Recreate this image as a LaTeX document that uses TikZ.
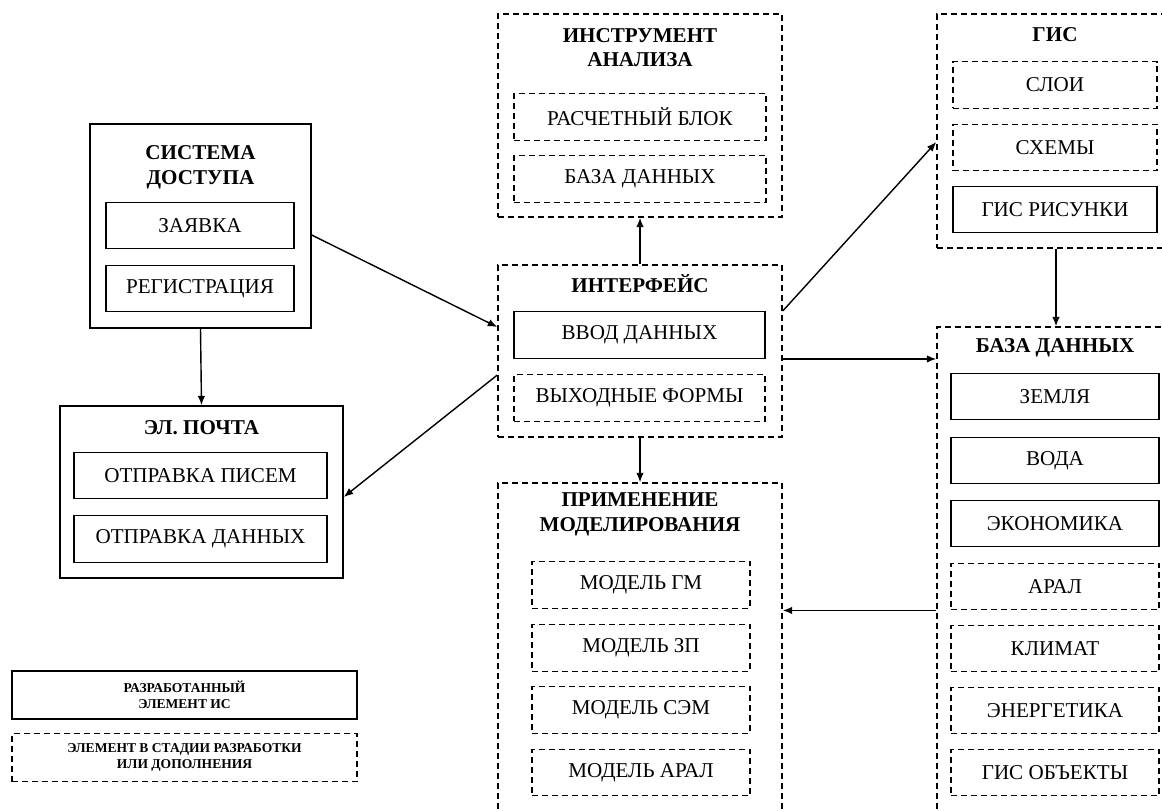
\documentclass[tikz,border=0pt]{standalone}
\usepackage{fontspec}
\setmainfont{Liberation Serif}
\usetikzlibrary{arrows.meta}

\begin{document}
\begin{tikzpicture}[x=0.2mm,y=-0.2mm,
    solidbox/.style={draw,line width=0.8pt,inner sep=0pt},
    dashbox/.style={draw,line width=0.8pt,dash pattern=on 1.2mm off 0.8mm,inner sep=0pt},
    heading/.style={font=\bfseries\fontsize{12}{14}\selectfont,align=center},
    item/.style={font=\fontsize{12}{14}\selectfont,minimum height=9.3mm},
    legendtext/.style={font=\bfseries\fontsize{7.7}{9}\selectfont,align=center},
    link/.style={-{Latex[length=1.9mm,width=1.5mm]},line width=0.8pt}]
    \useasboundingbox (0,0) rectangle (1162,810);

    \node[solidbox,minimum width=44.2mm,minimum height=40.8mm] (sys) at (200.5,226) {};
    \node[heading] (systitle) at (200.5,167) {СИСТЕМА\\ДОСТУПА};
    \node[solidbox,item,minimum width=37.6mm] (zayavka) at (200,225.5) {ЗАЯВКА};
    \node[solidbox,item,minimum width=37.6mm] (registr) at (200,288.5) {РЕГИСТРАЦИЯ};

    \node[solidbox,minimum width=56.6mm,minimum height=34.4mm] (mail) at (201.5,492) {};
    \node[heading] (mailtitle) at (201.5,428) {ЭЛ. ПОЧТА};
    \node[solidbox,item,minimum width=50.6mm] (pisma) at (200.5,475.5) {ОТПРАВКА ПИСЕМ};
    \node[solidbox,item,minimum width=50.6mm] (dannye) at (200.5,539) {ОТПРАВКА ДАННЫХ};

    \node[dashbox,minimum width=56.8mm,minimum height=40.6mm] (tool) at (640,115.5) {};
    \node[heading] (tooltitle) at (640,47.5) {ИНСТРУМЕНТ\\АНАЛИЗА};
    \node[dashbox,item,minimum width=50.4mm] (raschet) at (640,117) {РАСЧЕТНЫЙ БЛОК};
    \node[dashbox,item,minimum width=50.4mm] (tooldb) at (640,179) {БАЗА ДАННЫХ};

    \node[dashbox,minimum width=56.8mm,minimum height=34.4mm] (iface) at (640,351) {};
    \node[heading] (ifacetitle) at (640,284) {ИНТЕРФЕЙС};
    \node[solidbox,item,minimum width=50.2mm] (vvod) at (639.5,335) {ВВОД ДАННЫХ};
    \node[dashbox,item,minimum width=50.2mm] (vykhod) at (639.5,398) {ВЫХОДНЫЕ ФОРМЫ};

    \node[dashbox,minimum width=56.8mm,minimum height=66.4mm] (model) at (640,649) {};
    \node[heading] (modeltitle) at (640,514.5) {ПРИМЕНЕНИЕ\\МОДЕЛИРОВАНИЯ};
    \node[dashbox,item,minimum width=43.6mm] (gm) at (641,585) {МОДЕЛЬ ГМ};
    \node[dashbox,item,minimum width=43.6mm] (zp) at (641,648) {МОДЕЛЬ ЗП};
    \node[dashbox,item,minimum width=43.6mm] (sem) at (641,710) {МОДЕЛЬ СЭМ};
    \node[dashbox,item,minimum width=43.6mm] (aralmod) at (641,772.5) {МОДЕЛЬ АРАЛ};

    \node[dashbox,minimum width=47.6mm,minimum height=46.8mm] (gis) at (1056,131) {};
    \node[heading] (gistitle) at (1055,35) {ГИС};
    \node[dashbox,item,minimum width=40.8mm] (sloi) at (1055,85) {СЛОИ};
    \node[dashbox,item,minimum width=40.8mm] (skhemy) at (1055,147.5) {СХЕМЫ};
    \node[solidbox,item,minimum width=40.8mm] (risunki) at (1055,209.5) {ГИС РИСУНКИ};

    \node[dashbox,minimum width=47.6mm,minimum height=97.6mm] (bd) at (1056,571) {};
    \node[heading] (bdtitle) at (1055,348) {БАЗА ДАННЫХ};
    \node[solidbox,item,minimum width=41.6mm] (zemlya) at (1055,396.5) {ЗЕМЛЯ};
    \node[solidbox,item,minimum width=41.6mm] (voda) at (1055,460.5) {ВОДА};
    \node[solidbox,item,minimum width=41.6mm] (ekon) at (1055,523.5) {ЭКОНОМИКА};
    \node[dashbox,item,minimum width=41.6mm] (aral) at (1055,586.5) {АРАЛ};
    \node[dashbox,item,minimum width=41.6mm] (klimat) at (1055,648.5) {КЛИМАТ};
    \node[dashbox,item,minimum width=41.6mm] (energ) at (1055,710.5) {ЭНЕРГЕТИКА};
    \node[dashbox,item,minimum width=41.6mm] (gisobj) at (1055,772.5) {ГИС ОБЪЕКТЫ};

    \node[solidbox,legendtext,minimum width=69mm,minimum height=9.6mm] (legdone) at (184.5,695) {РАЗРАБОТАННЫЙ\\ЭЛЕМЕНТ ИС};
    \node[dashbox,legendtext,minimum width=69mm,minimum height=9.6mm] (legwork) at (184.5,757.5) {ЭЛЕМЕНТ В СТАДИИ РАЗРАБОТКИ\\ИЛИ ДОПОЛНЕНИЯ};

    \draw[link] ([yshift=-1.8mm]sys.east) -- ([yshift=4.8mm]iface.west);
    \draw[link] (sys.south) -- (mail.north);
    \draw[link] ([yshift=-4.8mm]iface.west) -- ([yshift=-1mm]mail.east);
    \draw[link] (iface.north) -- (tool.south);
    \draw[link] ([yshift=8mm]iface.east) -- ([yshift=-2.2mm]gis.west);
    \draw[link] (vvod.south -| iface.east) -- (vvod.south -| bd.west);
    \draw[link] (iface.south) -- (model.north);
    \draw[link] (gis.south) -- (bd.north);
    \draw[link] (aral.south -| bd.west) -- (aral.south -| model.east);
  \end{tikzpicture}
\end{document}
